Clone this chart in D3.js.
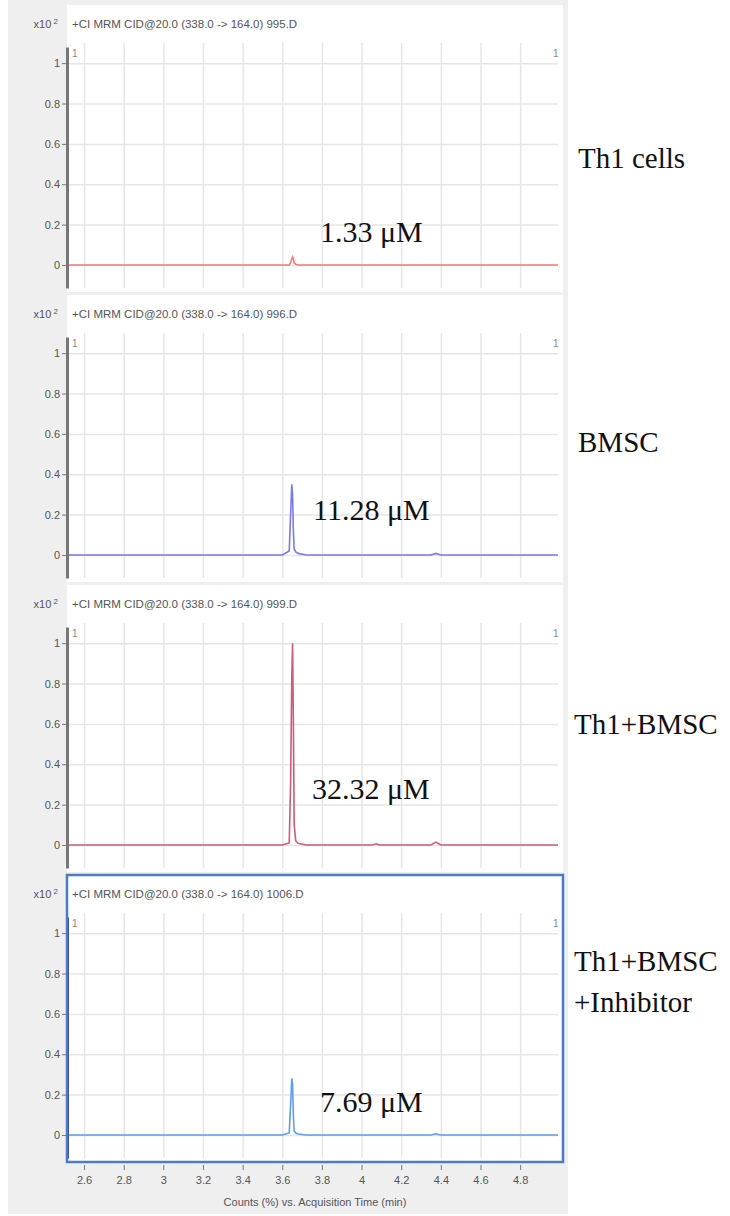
<!DOCTYPE html>
<head>
    <meta charset="utf-8">
    <script src="https://d3js.org/d3.v7.min.js"></script>
    <style>
        body { margin: 0; background: #fff; }
        .tick text { font-family: "Liberation Sans Narrow", "Liberation Sans", Arial, sans-serif; }
    </style>
</head>

<body>
    <div id="chromatogram"></div>
</body>

<script>

    // acquisition time (min) of the read-off points, shared by all traces
    const times = [2.514, 3.60, 3.635, 3.642, 3.648, 3.652, 3.656, 3.66, 3.668, 3.68, 3.72,
                   4.05, 4.075, 4.09, 4.35, 4.375, 4.40, 4.991];

    // counts (x10^2)
    const th1Cells   = [0, 0, 0, 0.01, 0.03, 0.04, 0.03, 0.01, 0.003, 0, 0, 0, 0, 0, 0, 0, 0, 0];
    const bmsc       = [0, 0, 0.02, 0.2, 0.35, 0.30, 0.12, 0.03, 0.015, 0.008, 0, 0, 0, 0, 0, 0.008, 0, 0];
    const th1Bmsc    = [0, 0, 0.01, 0.3, 0.84, 1.0, 0.6, 0.1, 0.02, 0.008, 0, 0, 0.006, 0, 0, 0.014, 0, 0];
    const inhibitor  = [0, 0, 0.01, 0.15, 0.28, 0.25, 0.1, 0.02, 0.01, 0.005, 0, 0, 0, 0, 0, 0.006, 0, 0];

    const sampleFiles = ["995.D", "996.D", "999.D", "1006.D"];
    const groupLabels = [["Th1 cells"], ["BMSC"], ["Th1+BMSC"], ["Th1+BMSC", "+Inhibitor"]];
    const concLabels  = ["1.33 \u03bcM", "11.28 \u03bcM", "32.32 \u03bcM", "7.69 \u03bcM"];

    const xTicks = [2.6, 2.8, 3, 3.2, 3.4, 3.6, 3.8, 4, 4.2, 4.4, 4.6, 4.8];
    const yTicks = [0, 0.2, 0.4, 0.6, 0.8, 1];

    const traces = [th1Cells, bmsc, th1Bmsc, inhibitor];
    const colors = ["#f27a7a", "#7a7ae8", "#c85e78", "#5c9ee8"];

    const W = 730, H = 1216;
    const left = 67, right = 563;
    const panelStep = 290, panelH = 287, firstTop = 5;

    const svg = d3.select("#chromatogram")
        .append("svg")
            .attr("width", W)
            .attr("height", H);

    // grey frame of the software window
    svg.append("rect")
        .attr("x", 8).attr("y", 0)
        .attr("width", 560).attr("height", 1214)
        .attr("fill", "#efefef");

    const x = d3.scaleLinear()
        .domain([2.514, 4.991])
        .range([left, 558]);

    const y = d3.scaleLinear()
        .domain([-0.114, 1.08])
        .range([283, 42]);

    const fmt = d3.format("~g");

    traces.forEach(function(vals, i){
        const g = svg.append("g")
            .attr("transform", `translate(0,${firstTop + i * panelStep})`);

        g.append("rect")
            .attr("x", left).attr("y", 0)
            .attr("width", right - left).attr("height", panelH)
            .attr("fill", "#fff");

        // grid
        g.append("g")
            .attr("transform", `translate(0,${y.range()[0]})`)
            .call(d3.axisBottom(x).tickValues(xTicks).tickSize(-(y.range()[0] - y.range()[1]) - 4).tickFormat(""))
            .call(a => a.select(".domain").remove())
            .call(a => a.selectAll("line").attr("stroke", "#e6e6e6").attr("stroke-width", 1.5));
        g.append("g")
            .attr("transform", `translate(${left},0)`)
            .call(d3.axisLeft(y).tickValues(yTicks).tickSize(-(558 - left)).tickFormat(""))
            .call(a => a.select(".domain").remove())
            .call(a => a.selectAll("line").attr("stroke", "#e6e6e6").attr("stroke-width", 1.5));

        // title row
        const t = g.append("text")
            .attr("x", 58).attr("y", 23)
            .attr("text-anchor", "end")
            .attr("font-family", "Liberation Sans Narrow, Liberation Sans, Arial")
            .attr("font-size", 11).attr("fill", "#555");
        t.append("tspan").text("x10");
        t.append("tspan").attr("dy", -4).attr("font-size", 8).text(" 2");
        g.append("text")
            .attr("x", 72).attr("y", 23)
            .attr("font-family", "Liberation Sans Narrow, Liberation Sans, Arial")
            .attr("font-size", 11.5).attr("fill", "#555")
            .text(`+CI MRM CID@20.0 (338.0 -> 164.0) ${sampleFiles[i]}`);

        g.append("text")
            .attr("x", 72).attr("y", 52)
            .attr("font-family", "Liberation Sans Narrow, Liberation Sans, Arial")
            .attr("font-size", 10).attr("fill", "#888").text("1");
        g.append("text")
            .attr("x", 553).attr("y", 52)
            .attr("font-family", "Liberation Sans Narrow, Liberation Sans, Arial")
            .attr("font-size", 10).attr("fill", "#888").text("1");

        // trace
        g.append("path")
            .datum(vals)
            .attr("fill", "none")
            .attr("stroke", colors[i])
            .attr("stroke-width", 1.6)
            .attr("d", d3.line()
                .x(function(d, j){ return x(times[j]); })
                .y(function(d){ return y(d); }));

        // y axis
        g.append("g")
            .attr("transform", `translate(${left},0)`)
            .call(d3.axisLeft(y).tickValues(yTicks).tickSize(5).tickSizeOuter(0).tickPadding(2).tickFormat(fmt))
            .call(a => a.select(".domain")
                .attr("stroke", i === 3 ? "#2f4f8f" : "#777").attr("stroke-width", 3))
            .call(a => a.selectAll(".tick line").attr("stroke", "#777"))
            .call(a => a.selectAll(".tick text").attr("font-size", 11).attr("fill", "#555"));

        // concentration
        g.append("text")
            .attr("x", [320, 313, 312, 320][i])
            .attr("y", y(0) - [23, 35, 46, 23][i])
            .attr("font-family", "Liberation Serif, Times New Roman, serif")
            .attr("font-size", 30).attr("fill", "#111")
            .text(concLabels[i]);

        // group label on the right
        const lab = g.append("text")
            .attr("font-family", "Liberation Serif, Times New Roman, serif")
            .attr("font-size", 29).attr("fill", "#111");
        const labY = [[y(0.53)], [y(0.56)], [y(0.6)], [y(0.86), y(0.66)]][i];
        groupLabels[i].forEach(function(s, k){
            lab.append("tspan")
                .attr("x", [578, 578, 574, 574][i])
                .attr("y", labY[k] + 10)
                .text(s);
        });

        if (i === 3) {
            g.append("rect")
                .attr("x", left).attr("y", 0)
                .attr("width", right - left).attr("height", panelH)
                .attr("fill", "none")
                .attr("stroke", "#4a7cc6").attr("stroke-width", 2.5);

            const xa = g.append("g")
                .attr("transform", `translate(0,${panelH + 3})`)
                .call(d3.axisBottom(x).tickValues(xTicks).tickSize(5).tickPadding(6).tickFormat(fmt));
            xa.select(".domain").remove();
            xa.selectAll(".tick line").attr("stroke", "#777");
            xa.selectAll(".tick text").attr("font-size", 11).attr("fill", "#555");

            g.append("text")
                .attr("x", (left + right) / 2).attr("y", panelH + 44)
                .attr("text-anchor", "middle")
                .attr("font-family", "Liberation Sans Narrow, Liberation Sans, Arial")
                .attr("font-size", 11).attr("fill", "#555")
                .text("Counts (%) vs. Acquisition Time (min)");
        }
    });

</script>
</html>
